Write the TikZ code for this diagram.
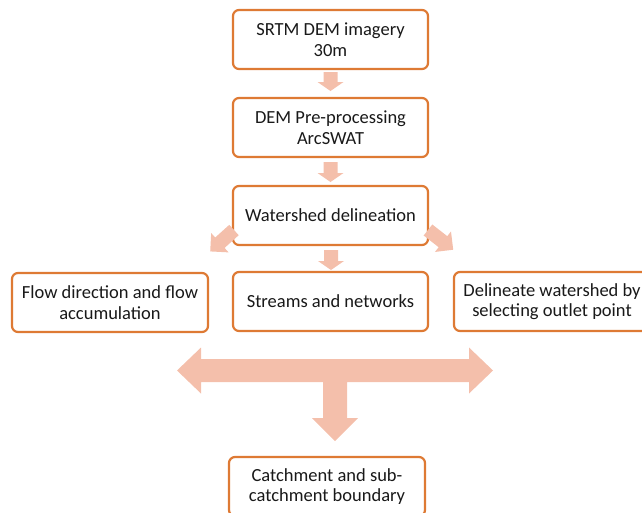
\documentclass[tikz,border=0pt]{standalone}
\usepackage{fontspec}
\setmainfont{Carlito}
\definecolor{boxline}{RGB}{222,122,52}
\definecolor{arrowfill}{RGB}{244,191,171}
\newcommand{\barrow}[5]{% x y angle length headlen
  \fill[arrowfill, shift={(#1,#2)}, rotate=#3] (0,-7) -- ({#4-#5},-7) -- ({#4-#5},-13) -- (#4,0) -- ({#4-#5},13) -- ({#4-#5},7) -- (0,7) -- cycle;}
\begin{document}
\begin{tikzpicture}[x=1pt,y=-1pt,
  stepbox/.style={draw=boxline, line width=2.2pt, rounded corners=6pt, fill=white,
    align=center, font=\fontsize{18.5}{20.5}\selectfont, text=black!90, inner sep=2pt}]
\useasboundingbox (0,0) rectangle (642,512);
\begin{scope}
\clip (0,0) rectangle (642,512);
\node[stepbox, minimum width=195pt, minimum height=59pt] (srtm) at (330.5,39.5) {SRTM DEM imagery\\30m};
\node[stepbox, minimum width=195pt, minimum height=59pt] (pre) at (330.5,127.5) {DEM Pre-processing\\ArcSWAT};
\node[stepbox, minimum width=195pt, minimum height=59pt] (ws) at (330.5,215.5) {Watershed delineation};
\node[stepbox, minimum width=196pt, minimum height=59pt] (flow) at (110,302.5) {Flow direction and flow\\accumulation};
\node[stepbox, minimum width=195pt, minimum height=59pt] (streams) at (330.5,301.5) {Streams and networks};
\node[stepbox, minimum width=196pt, minimum height=59pt] (outlet) at (552,301.5) {Delineate watershed by\\selecting outlet point};
\node[stepbox, minimum width=196pt, minimum height=59pt] (catch) at (327,486.5) {Catchment and sub-\\catchment boundary};
\end{scope}
\barrow{330.5}{72}{-90}{19}{9}
\barrow{330.5}{162}{-90}{20}{9}
\barrow{331}{250}{-90}{20}{9}
\barrow{234}{230}{-138}{32}{13}
\barrow{428}{230}{-38}{32}{13}
\fill[arrowfill] (177,370.5) -- (201,347.5) -- (201,359) -- (469,359) -- (469,347.5) -- (493,370.5) -- (469,393.5) -- (469,382) -- (347,382) -- (347,418) -- (358,418) -- (335,441) -- (312,418) -- (323,418) -- (323,382) -- (201,382) -- (201,393.5) -- cycle;
\end{tikzpicture}
\end{document}
